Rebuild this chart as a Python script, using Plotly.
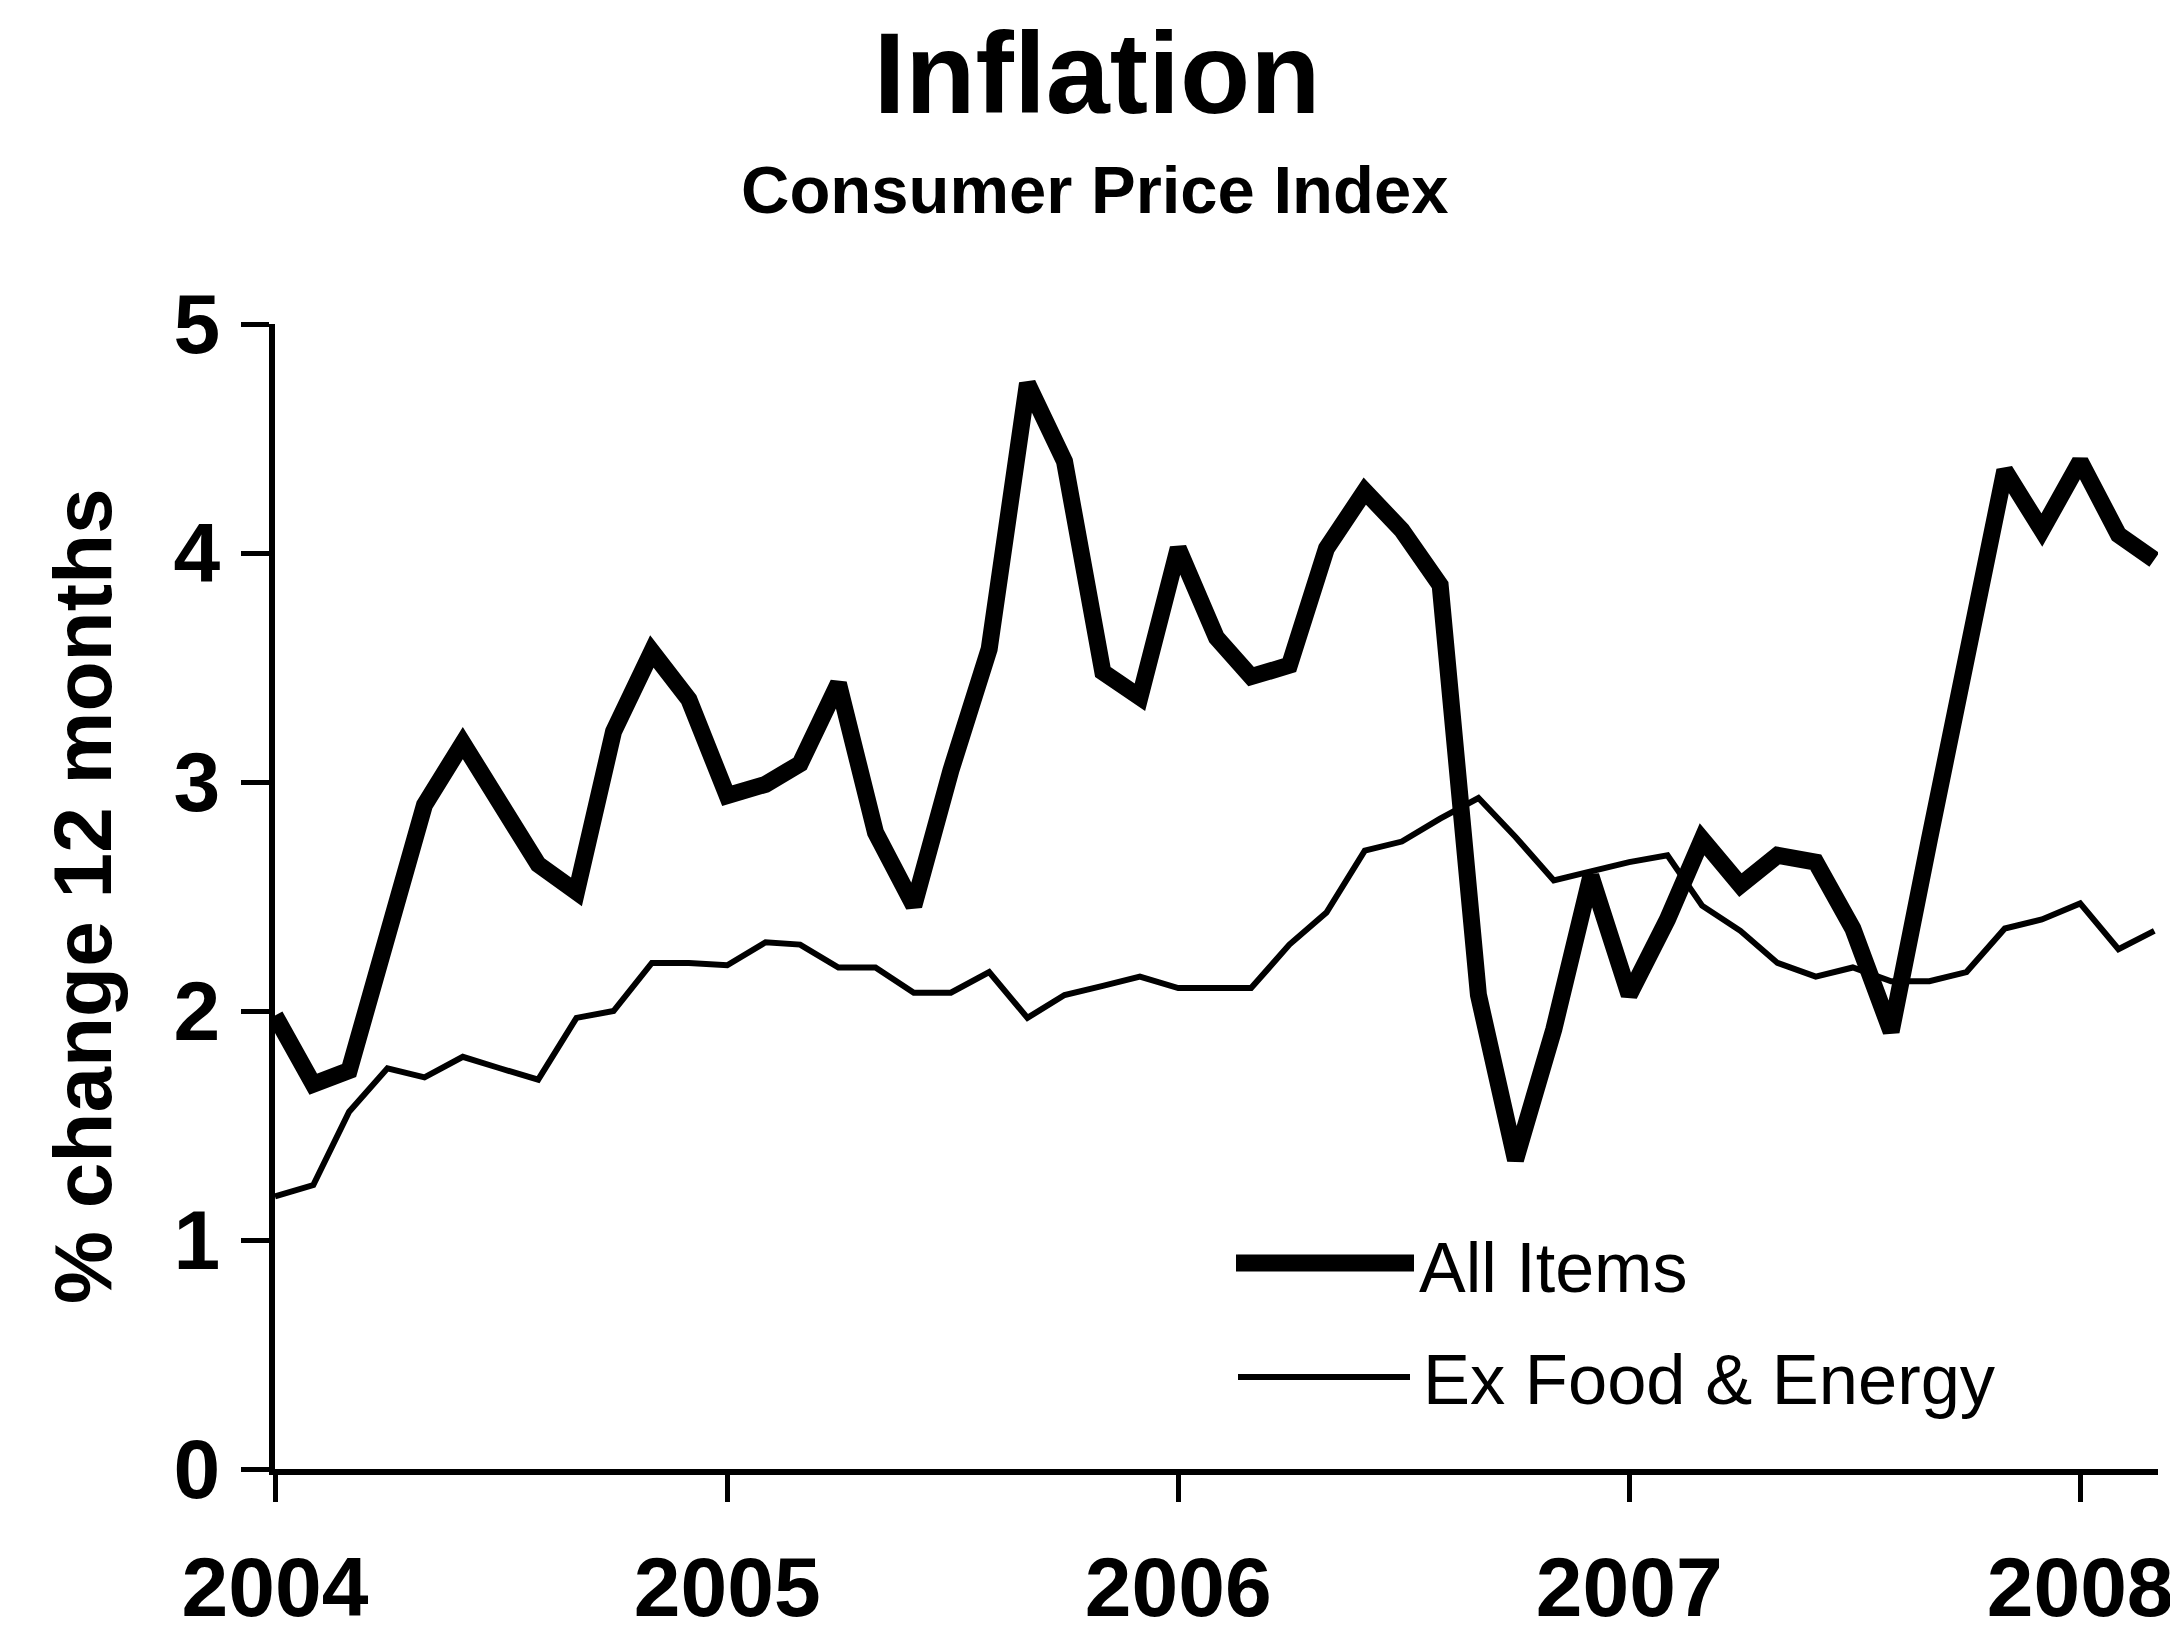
import pandas as pd
import plotly.graph_objects as go

# ---- data (12-month % change, monthly Jan 2004 - Mar 2008) ----
months = pd.date_range("2004-01-01", periods=51, freq="MS")

all_items = [
    1.98, 1.68, 1.74, 2.30, 2.90, 3.17, 2.90, 2.64, 2.52, 3.22, 3.57, 3.36,   # 2004
    2.94, 2.99, 3.08, 3.43, 2.78, 2.46, 3.05, 3.58, 4.74, 4.40, 3.48, 3.37,   # 2005
    4.02, 3.63, 3.46, 3.51, 4.02, 4.27, 4.10, 3.86, 2.07, 1.35, 1.92, 2.59,   # 2006
    2.07, 2.40, 2.75, 2.55, 2.68, 2.65, 2.36, 1.91, 2.75, 3.58, 4.36, 4.10,   # 2007
    4.40, 4.08, 3.97,                                                         # 2008
]

ex_food_energy = [
    1.19, 1.24, 1.56, 1.75, 1.71, 1.80, 1.75, 1.70, 1.97, 2.00, 2.21, 2.21,   # 2004
    2.20, 2.30, 2.29, 2.19, 2.19, 2.08, 2.08, 2.17, 1.97, 2.07, 2.11, 2.15,   # 2005
    2.10, 2.10, 2.10, 2.29, 2.43, 2.70, 2.74, 2.84, 2.93, 2.76, 2.57, 2.61,   # 2006
    2.65, 2.68, 2.46, 2.35, 2.21, 2.15, 2.19, 2.13, 2.13, 2.17, 2.36, 2.40,   # 2007
    2.47, 2.27, 2.35,                                                         # 2008
]

series_names = ["All Items", "Ex Food & Energy"]
y_ticks = [0, 1, 2, 3, 4, 5]
x_tick_labels = ["2004", "2005", "2006", "2007", "2008"]

FONT = "Liberation Sans, Arial, sans-serif"
THICK, THIN = 17, 6

fig = go.Figure()
fig.add_trace(go.Scatter(x=months, y=all_items, mode="lines", name=series_names[0],
                         line=dict(color="black", width=THICK), showlegend=False))
fig.add_trace(go.Scatter(x=months, y=ex_food_energy, mode="lines", name=series_names[1],
                         line=dict(color="black", width=THIN), showlegend=False))

# page body has an 8px default margin: size the figure to fit the window
OFF = 8
W, H = 2178 - OFF, 1644 - OFF
L, R, T, B = 267, 20, 316, 175
pw, ph = W - L - R, H - T - B

def px_x(x):  # window pixel -> paper
    return (x - OFF - L) / pw

def px_y(y):
    return (H - B - (y - OFF)) / ph

fig.update_layout(
    width=W, height=H,
    margin=dict(l=L, r=R, t=T, b=B, autoexpand=False),
    paper_bgcolor="white", plot_bgcolor="white",
    font=dict(family=FONT, color="black"),
    title=dict(text="Inflation", x=(1097 - OFF) / W, xanchor="center",
               y=1 - (73 - OFF) / H, yanchor="middle", yref="container",
               font=dict(size=115, weight="bold", family=FONT, color="black")),
    xaxis=dict(
        type="date",
        range=["2004-01-01", "2008-03-04"],
        tickvals=[f"{y}-01-01" for y in x_tick_labels],
        ticktext=x_tick_labels,
        showgrid=False, zeroline=False, automargin=False,
        showline=True, linecolor="black", linewidth=6,
        ticks="outside", ticklen=27, tickwidth=5, tickcolor="black",
        tickfont=dict(size=84, weight="bold", family=FONT, color="black"),
        ticklabelstandoff=13,
    ),
    yaxis=dict(
        range=[0, 5],
        tickvals=y_ticks,
        showgrid=False, zeroline=False, automargin=False,
        showline=True, linecolor="black", linewidth=6,
        ticks="outside", ticklen=28, tickwidth=5, tickcolor="black",
        tickfont=dict(size=84, weight="bold", family=FONT, color="black"),
        ticklabelstandoff=4,
    ),
)

annotations = [
    dict(text="Consumer Price Index", x=px_x(1094), y=px_y(189), xref="paper", yref="paper",
         xanchor="center", yanchor="middle", showarrow=False,
         font=dict(size=67, weight="bold", family=FONT, color="black")),
    dict(text="% change 12 months", x=px_x(82), y=px_y(896), xref="paper", yref="paper",
         xanchor="center", yanchor="middle", textangle=-90, showarrow=False,
         font=dict(size=82, weight="bold", family=FONT, color="black")),
    dict(text=series_names[0], x=px_x(1417), y=px_y(1268), xref="paper", yref="paper",
         xanchor="left", yanchor="middle", showarrow=False,
         font=dict(size=70, family=FONT, color="black")),
    dict(text=series_names[1], x=px_x(1421), y=px_y(1379), xref="paper", yref="paper",
         xanchor="left", yanchor="middle", showarrow=False,
         font=dict(size=70.5, family=FONT, color="black")),
]
fig.update_layout(annotations=annotations)

shapes = [
    dict(type="line", xref="paper", yref="paper", x0=px_x(1236), x1=px_x(1414),
         y0=px_y(1263), y1=px_y(1263), line=dict(color="black", width=THICK)),
    dict(type="line", xref="paper", yref="paper", x0=px_x(1238), x1=px_x(1410),
         y0=px_y(1377), y1=px_y(1377), line=dict(color="black", width=THIN)),
]
fig.update_layout(shapes=shapes)

fig.write_html("out.html")
